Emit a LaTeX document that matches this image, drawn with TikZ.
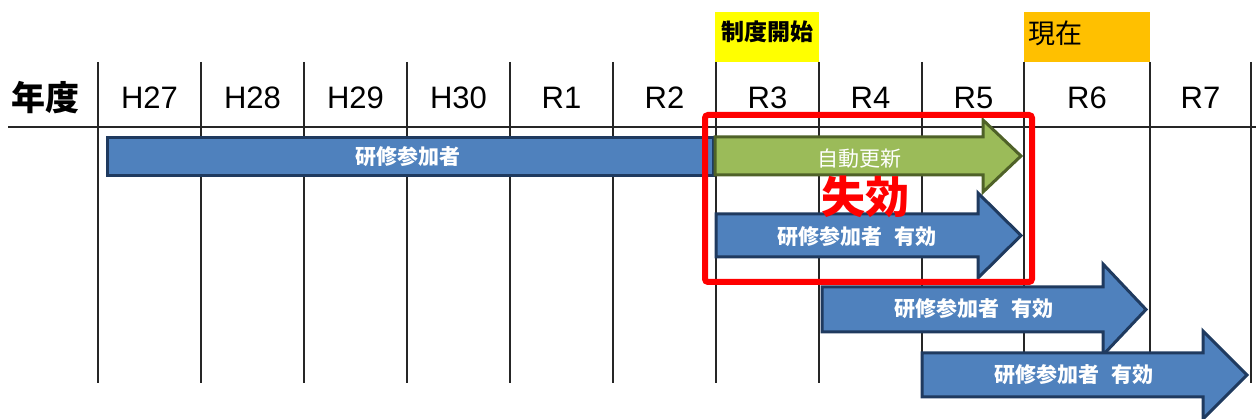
\documentclass[tikz,border=0pt]{standalone}
\usepackage{fontspec}
\setmainfont{Liberation Sans}
\newfontfamily\jp{Noto Sans CJK JP}
\definecolor{barblue}{HTML}{4F81BD}
\definecolor{bardark}{HTML}{1F3A5F}
\definecolor{bargreen}{HTML}{9BBB59}
\definecolor{greendark}{HTML}{4F6228}
\definecolor{startyellow}{HTML}{FFFF00}
\definecolor{noworange}{HTML}{FFC000}
\definecolor{lossred}{HTML}{FF0000}
\begin{document}
\begin{tikzpicture}[x=1pt,y=-1pt,
  gridline/.style={line width=1.4pt,black!85},
  bluearrow/.style={fill=barblue,draw=bardark,line width=3pt,line join=miter},
  greenarrow/.style={fill=bargreen,draw=greendark,line width=3pt,line join=miter},
  yearlbl/.style={font=\fontsize{31}{31}\selectfont,text=black,inner sep=0pt},
  barlbl/.style={font=\jp\bfseries\fontsize{21}{21}\selectfont,text=white,inner sep=0pt},
  taglbl/.style={inner sep=0pt,text=black},
]
\useasboundingbox (0,0) rectangle (1256,419);
% tag boxes
\fill[startyellow] (715,12) rectangle (819,62);
\fill[noworange] (1024,12) rectangle (1150,62);
\node[taglbl,font=\jp\bfseries\fontsize{23}{23}\selectfont] (start) at (767,32) {制度開始};
\node[taglbl,font=\jp\fontsize{27}{27}\selectfont,anchor=west] (now) at (1028,33) {現在};
% grid
\draw[gridline] (8,127) -- (1256,127);
\foreach \gx in {98,201,304,407,510,613,716,819,922,1024,1150,1251}
  \draw[gridline] (\gx,62) -- (\gx,383);
% header labels
\node[taglbl,font=\jp\bfseries\fontsize{34}{34}\selectfont] (nendo) at (46,98) {年度};
\node[yearlbl] (h27) at (149.5,98) {H27};
\node[yearlbl] (h28) at (252.5,98) {H28};
\node[yearlbl] (h29) at (355.5,98) {H29};
\node[yearlbl] (h30) at (458.5,98) {H30};
\node[yearlbl] (r1) at (561.5,98) {R1};
\node[yearlbl] (r2) at (664.5,98) {R2};
\node[yearlbl] (r3) at (767.5,98) {R3};
\node[yearlbl] (r4) at (870.5,98) {R4};
\node[yearlbl] (r5) at (973.5,98) {R5};
\node[yearlbl] (r6) at (1087,98) {R6};
\node[yearlbl] (r7) at (1200.5,98) {R7};
% bars and arrows
\draw[bluearrow] (107,138) rectangle (713,176);
\node[barlbl] (bar0) at (408,157) {研修参加者};
\draw[greenarrow] (715,137) -- (983,137) -- (983,120) -- (1021,156) -- (983,192) -- (983,175) -- (715,175) -- cycle;
\node[barlbl,font=\jp\fontsize{21}{21}\selectfont] (auto) at (859,159) {自動更新};
\draw[bluearrow] (716,214) -- (978,214) -- (978,193) -- (1021,235.5) -- (978,278) -- (978,257) -- (716,257) -- cycle;
\node[barlbl] (a1) at (857,237) {研修参加者\hspace{0.6em}有効};
\draw[bluearrow] (822,287) -- (1103,287) -- (1103,264) -- (1146,309.5) -- (1103,355) -- (1103,332) -- (822,332) -- cycle;
\node[barlbl] (a2) at (974,309) {研修参加者\hspace{0.6em}有効};
\draw[bluearrow] (922,353) -- (1203,353) -- (1203,331) -- (1247,375) -- (1203,419) -- (1203,397) -- (922,397) -- cycle;
\node[barlbl] (a3) at (1074,375) {研修参加者\hspace{0.6em}有効};
% lapse box
\draw[lossred,line width=6pt,rounded corners=3pt] (705,115) rectangle (1032,282);
\node[taglbl,text=lossred,font=\jp\bfseries\fontsize{44}{44}\selectfont] (lapse) at (865,197) {失効};
\end{tikzpicture}
\end{document}
